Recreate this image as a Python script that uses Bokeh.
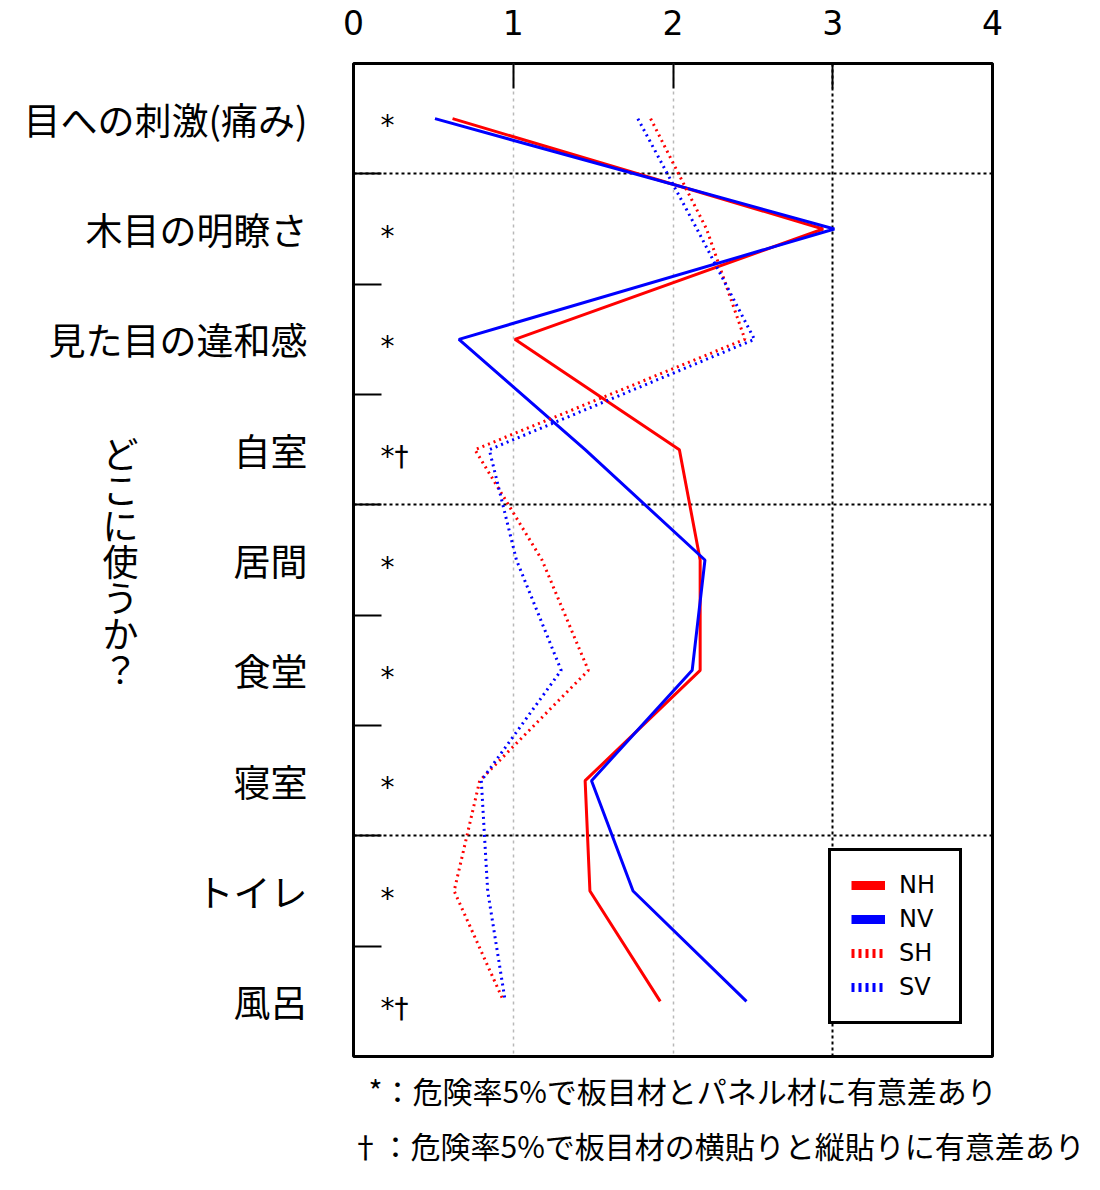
from bokeh.plotting import figure
from bokeh.models import (Range1d, FixedTicker, Grid, Legend, LegendItem, Label, Title)
from bokeh.core.properties import value
from bokeh.embed import file_html
from bokeh.resources import INLINE

# rows (top to bottom) and their labels
rows = [1, 2, 3, 4, 5, 6, 7, 8, 9]
categories = ["目への刺激(痛み)", "木目の明瞭さ", "見た目の違和感",
              "自室", "居間", "食堂", "寝室", "トイレ", "風呂"]
group_title = "どこに使うか？"
group_breaks = [1.5, 4.5, 7.5]

# mean scores per series
NH = [0.62, 2.94, 1.01, 2.04, 2.17, 2.17, 1.45, 1.48, 1.92]
NV = [0.51, 3.01, 0.66, 1.45, 2.20, 2.12, 1.49, 1.75, 2.46]
SH = [1.86, 2.21, 2.45, 0.76, 1.18, 1.47, 0.79, 0.63, 0.94]
SV = [1.78, 2.15, 2.51, 0.85, 1.02, 1.30, 0.80, 0.84, 0.95]

# significance marks per row
marks = ["*", "*", "*", "*†", "*", "*", "*", "*", "*†"]
notes = ["*：危険率5%で板目材とパネル材に有意差あり",
         "†：危険率5%で板目材の横貼りと縦貼りに有意差あり"]

x_ticks = [0, 1, 2, 3, 4]

JP = "Noto Sans CJK JP"
LAT = "DejaVu Sans"

p = figure(frame_width=639, frame_height=993,
           min_border_left=353, min_border_right=100,
           min_border_top=63, min_border_bottom=128,
           x_range=Range1d(0, 4), y_range=Range1d(9.5, 0.5),
           x_axis_location="above", toolbar_location=None,
           output_backend="svg")
p.background_fill_color = "white"
p.border_fill_color = "white"
p.outline_line_color = "black"
p.outline_line_width = 3

# top axis: 0..4, ticks pointing inwards
xa = p.xaxis[0]
xa.ticker = FixedTicker(ticks=x_ticks)
xa.axis_line_color = None
xa.major_tick_in = 25
xa.major_tick_out = 0
xa.major_tick_line_width = 2
xa.major_tick_line_color = "black"
xa.minor_tick_line_color = None
xa.major_label_text_font = LAT
xa.major_label_text_font_size = "33px"
xa.major_label_text_color = "black"
xa.major_label_standoff = 29

# left axis: row labels, small ticks between rows
ya = p.yaxis[0]
ya.ticker = FixedTicker(ticks=rows, minor_ticks=[r + 0.5 for r in rows[:-1]])
ya.major_label_overrides = {r: c for r, c in zip(rows, categories)}
ya.axis_line_color = None
ya.major_tick_in = 0
ya.major_tick_out = 0
ya.minor_tick_in = 28
ya.minor_tick_out = 0
ya.minor_tick_line_width = 2
ya.minor_tick_line_color = "black"
ya.major_label_text_font = JP
ya.major_label_text_font_size = "37px"
ya.major_label_text_color = "black"
ya.major_label_standoff = 46

# grid lines
p.xgrid.ticker = FixedTicker(ticks=[1, 2])
p.xgrid.grid_line_color = "#b8b8b8"
p.xgrid.grid_line_dash = "3 4"
p.xgrid.grid_line_width = 1.5
p.add_layout(Grid(dimension=0, ticker=FixedTicker(ticks=[3]),
                  grid_line_color="black", grid_line_dash="3 3",
                  grid_line_width=2))
p.ygrid.ticker = FixedTicker(ticks=group_breaks)
p.ygrid.grid_line_color = "black"
p.ygrid.grid_line_dash = "3 3"
p.ygrid.grid_line_width = 2

# the four series
p.line(NH, rows, line_color="red", line_width=3)
p.line(NV, rows, line_color="blue", line_width=3)
p.line(SH, rows, line_color="red", line_width=3, line_dash="2 4")
p.line(SV, rows, line_color="blue", line_width=3, line_dash="2 4")

# significance marks
p.text(x=0, y=rows, text=marks, x_offset=27, y_offset=7,
       text_font=value(LAT), text_font_size="28px", text_color="black",
       text_align="left", text_baseline="alphabetic")

# legend samples: hidden copies with thicker lines
l_nh = p.line(NH, rows, line_color="red", line_width=9, visible=False)
l_nv = p.line(NV, rows, line_color="blue", line_width=9, visible=False)
l_sh = p.line(SH, rows, line_color="red", line_width=9, line_dash="3 4", visible=False)
l_sv = p.line(SV, rows, line_color="blue", line_width=9, line_dash="3 4", visible=False)
legend = Legend(items=[LegendItem(label="NH", renderers=[l_nh]),
                       LegendItem(label="NV", renderers=[l_nv]),
                       LegendItem(label="SH", renderers=[l_sh]),
                       LegendItem(label="SV", renderers=[l_sv])],
                location=(475, 32), margin=0, padding=20, spacing=6,
                glyph_width=34, glyph_height=28, label_height=28,
                label_width=40, label_standoff=14,
                border_line_color="black", border_line_width=3,
                border_line_alpha=1.0,
                background_fill_color="white", background_fill_alpha=1.0,
                label_text_font=LAT, label_text_font_size="24px",
                label_text_color="black")
p.add_layout(legend)

# vertical group title (kept in a side panel so it is not clipped to the frame)
p.add_layout(Label(x=0, y=5, x_offset=-233,
                   text="\n".join(group_title), text_font=JP,
                   text_font_size="36px", text_line_height=0.69,
                   text_align="center", text_baseline="middle",
                   text_color="black"), "right")

# footnotes under the chart
p.add_layout(Title(text=notes[0], align="left", offset=15, standoff=18,
                   text_font=JP, text_font_size="30px",
                   text_font_style="normal", text_color="black"), "below")
p.add_layout(Title(text=notes[1], align="left", offset=-3, standoff=0,
                   text_font=JP, text_font_size="30px",
                   text_font_style="normal", text_color="black"), "below")

open("out.html", "w").write(file_html(p, INLINE))
